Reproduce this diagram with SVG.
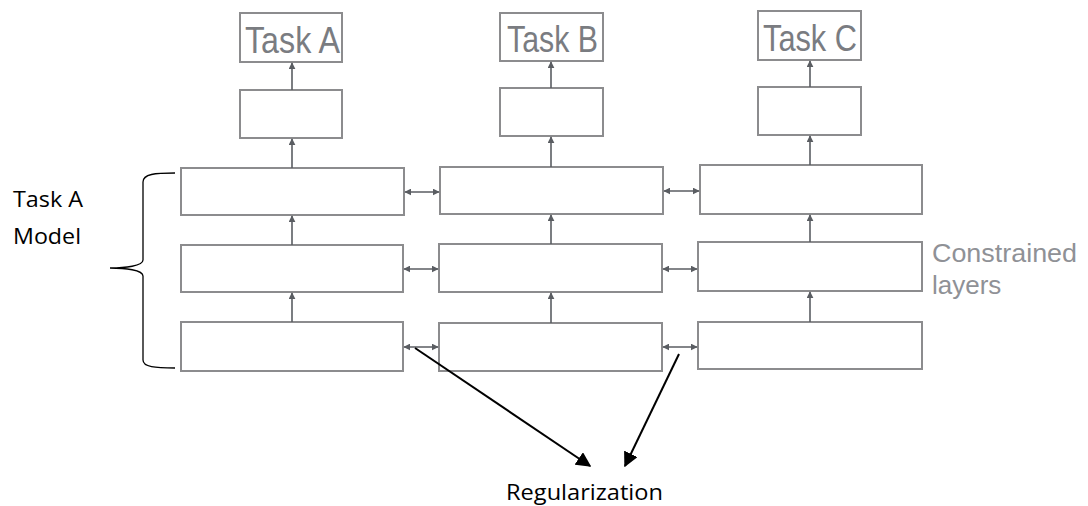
<svg xmlns="http://www.w3.org/2000/svg" width="1088" height="506" viewBox="0 0 1088 506">
  <style>
    .box { fill: #ffffff; stroke: #8c8c8e; stroke-width: 2; }
    .link { stroke: #5a5d62; stroke-width: 1.6; fill: none; }
    .reg { stroke: #000000; stroke-width: 2; fill: none; }
    .task { font-family: "Liberation Sans", Arial, sans-serif; font-size: 36px; fill: #7a7c81; }
    .side { font-family: "Liberation Sans", Arial, sans-serif; font-size: 26px; fill: #8f9196; }
    .note { font-family: "Open Sans", "Noto Sans", sans-serif; font-size: 22px; fill: #000000; }
  </style>
  <defs>
    <marker id="tip" viewBox="0 0 10 10" refX="9" refY="5" markerWidth="7" markerHeight="7" markerUnits="userSpaceOnUse" orient="auto-start-reverse">
      <path d="M0,0 L10,5 L0,10 Z" fill="#5a5d62"/>
    </marker>
    <marker id="bigtip" viewBox="0 0 10 10" refX="9" refY="5" markerWidth="15" markerHeight="15" markerUnits="userSpaceOnUse" orient="auto">
      <path d="M0,0 L10,5 L0,10 Z" fill="#000000"/>
    </marker>
  </defs>

  <rect width="1088" height="506" fill="#ffffff"/>

  <!-- task output labels -->
  <g id="task-a">
    <rect class="box" x="240" y="13" width="102" height="49"/>
    <text class="task" x="245" y="53" textLength="95" lengthAdjust="spacingAndGlyphs">Task A</text>
  </g>
  <g id="task-b">
    <rect class="box" x="500" y="13" width="103" height="48"/>
    <text class="task" x="507" y="52" textLength="91" lengthAdjust="spacingAndGlyphs">Task B</text>
  </g>
  <g id="task-c">
    <rect class="box" x="758" y="11" width="103" height="49"/>
    <text class="task" x="763" y="51" textLength="94" lengthAdjust="spacingAndGlyphs">Task C</text>
  </g>

  <!-- task-specific heads -->
  <g id="head-a"><rect class="box" x="240" y="90" width="102" height="48"/></g>
  <g id="head-b"><rect class="box" x="500" y="88" width="103" height="48"/></g>
  <g id="head-c"><rect class="box" x="758" y="87" width="103" height="48"/></g>

  <!-- shared layers, three rows per column -->
  <g id="a-layer1"><rect class="box" x="181" y="168" width="223" height="47"/></g>
  <g id="a-layer2"><rect class="box" x="181" y="245" width="222" height="47"/></g>
  <g id="a-layer3"><rect class="box" x="181" y="322" width="222" height="49"/></g>

  <g id="b-layer1"><rect class="box" x="440" y="167" width="223" height="47"/></g>
  <g id="b-layer2"><rect class="box" x="439" y="244" width="223" height="48"/></g>
  <g id="b-layer3"><rect class="box" x="439" y="323" width="223" height="48"/></g>

  <g id="c-layer1"><rect class="box" x="700" y="165" width="222" height="49"/></g>
  <g id="c-layer2"><rect class="box" x="698" y="242" width="224" height="49"/></g>
  <g id="c-layer3"><rect class="box" x="698" y="322" width="224" height="47"/></g>

  <!-- connectors -->
  <g id="connectors">
    <!-- upward flow, column A -->
    <line class="link" x1="292" y1="90" x2="292" y2="63" marker-end="url(#tip)"/>
    <line class="link" x1="292" y1="168" x2="292" y2="139" marker-end="url(#tip)"/>
    <line class="link" x1="292" y1="245" x2="292" y2="216" marker-end="url(#tip)"/>
    <line class="link" x1="292" y1="322" x2="292" y2="293" marker-end="url(#tip)"/>
    <!-- upward flow, column B -->
    <line class="link" x1="551" y1="88" x2="551" y2="62" marker-end="url(#tip)"/>
    <line class="link" x1="551" y1="167" x2="551" y2="137" marker-end="url(#tip)"/>
    <line class="link" x1="551" y1="244" x2="551" y2="215" marker-end="url(#tip)"/>
    <line class="link" x1="551" y1="323" x2="551" y2="293" marker-end="url(#tip)"/>
    <!-- upward flow, column C -->
    <line class="link" x1="810" y1="87" x2="810" y2="61" marker-end="url(#tip)"/>
    <line class="link" x1="810" y1="165" x2="810" y2="136" marker-end="url(#tip)"/>
    <line class="link" x1="810" y1="242" x2="810" y2="215" marker-end="url(#tip)"/>
    <line class="link" x1="810" y1="322" x2="810" y2="292" marker-end="url(#tip)"/>

    <!-- cross-column constraints -->
    <line class="link" x1="405" y1="192" x2="439" y2="192" marker-start="url(#tip)" marker-end="url(#tip)"/>
    <line class="link" x1="404" y1="269" x2="438" y2="269" marker-start="url(#tip)" marker-end="url(#tip)"/>
    <line class="link" x1="404" y1="347" x2="438" y2="347" marker-start="url(#tip)" marker-end="url(#tip)"/>
    <line class="link" x1="664" y1="191" x2="699" y2="191" marker-start="url(#tip)" marker-end="url(#tip)"/>
    <line class="link" x1="663" y1="269" x2="697" y2="269" marker-start="url(#tip)" marker-end="url(#tip)"/>
    <line class="link" x1="663" y1="347" x2="697" y2="347" marker-start="url(#tip)" marker-end="url(#tip)"/>

    <!-- pointers to the regularization label -->
    <line class="reg" x1="415" y1="348" x2="590" y2="466" marker-end="url(#bigtip)"/>
    <line class="reg" x1="679" y1="354" x2="625" y2="466" marker-end="url(#bigtip)"/>

    <!-- brace grouping the Task A layers -->
    <path d="M175,173 C155,173 143,174 143,182 L143,260 C143,266 125,268 110,268 C125,268 143,270 143,276 L143,360 C143,367 155,368 175,368" stroke="#000000" stroke-width="1.3" fill="none"/>
  </g>

  <!-- annotations -->
  <g id="label-model">
    <text class="note" x="13" y="207" textLength="70" lengthAdjust="spacingAndGlyphs">Task A</text>
    <text class="note" x="13" y="244" textLength="68" lengthAdjust="spacingAndGlyphs">Model</text>
  </g>
  <g id="label-constrained">
    <text class="side" x="932" y="262" textLength="145" lengthAdjust="spacingAndGlyphs">Constrained</text>
    <text class="side" x="932" y="294">layers</text>
  </g>
  <g id="label-regularization">
    <text class="note" x="506" y="500" textLength="157" lengthAdjust="spacingAndGlyphs">Regularization</text>
  </g>
</svg>
